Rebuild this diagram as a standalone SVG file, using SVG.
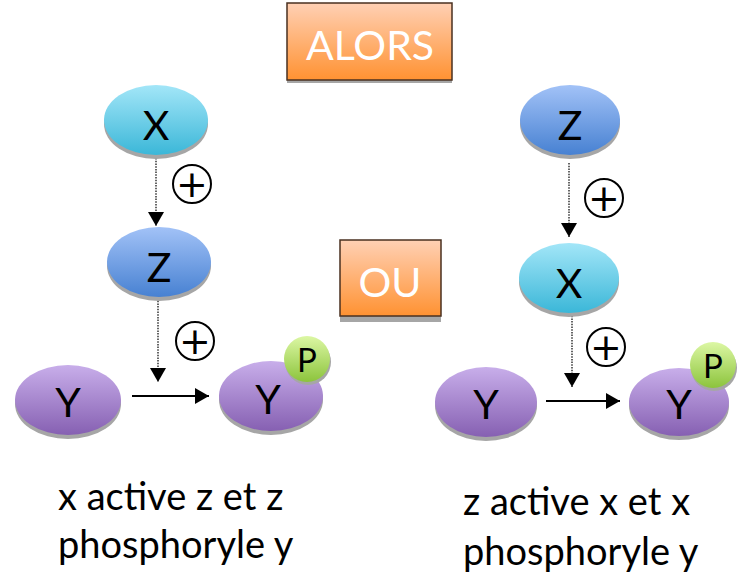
<svg xmlns="http://www.w3.org/2000/svg" width="746" height="575" viewBox="0 0 746 575">
<defs>
<linearGradient id="gX" x1="0" y1="0" x2="0" y2="1"><stop offset="0" stop-color="#a3e6f8"/><stop offset="1" stop-color="#3bb7d8"/></linearGradient>
<linearGradient id="gZ" x1="0" y1="0" x2="0" y2="1"><stop offset="0" stop-color="#a2c2f7"/><stop offset="1" stop-color="#4781d2"/></linearGradient>
<linearGradient id="gY" x1="0" y1="0" x2="0" y2="1"><stop offset="0" stop-color="#c8aeea"/><stop offset="1" stop-color="#8660b2"/></linearGradient>
<linearGradient id="gP" x1="0" y1="0" x2="0" y2="1"><stop offset="0" stop-color="#dcf7a4"/><stop offset="1" stop-color="#8cc43c"/></linearGradient>
<linearGradient id="gO" x1="0" y1="0" x2="0" y2="1"><stop offset="0" stop-color="#ffd0b4"/><stop offset="1" stop-color="#ff9232"/></linearGradient>
<marker id="ahv" viewBox="0 0 14 16" refX="14" refY="8" markerWidth="14" markerHeight="16" markerUnits="userSpaceOnUse" orient="auto"><path d="M0,0 L14,8 L0,16 Z" fill="#000"/></marker>
</defs>
<style>
.sh{fill:#a6a6a6}
.lbl{font-family:Lato,"Liberation Sans",sans-serif;font-size:41px;fill:#000;text-anchor:middle}
.plbl{font-family:Lato,"Liberation Sans",sans-serif;font-size:33px;fill:#000;text-anchor:middle}
.box{fill:url(#gO);stroke:#4a3020;stroke-width:1.5}
.btxt{font-family:Lato,"Liberation Sans",sans-serif;font-size:41px;fill:#fff;text-anchor:middle}
.dot{stroke:#333;stroke-width:1.5;stroke-dasharray:1.5 1.2;fill:none}
.sol{stroke:#000;stroke-width:2;fill:none}
.pc{fill:#fff;stroke:#000;stroke-width:2}
.ptxt{font-family:"DejaVu Sans",sans-serif;font-size:38px;fill:#000;text-anchor:middle}
.cap{font-family:Lato,"Liberation Sans",sans-serif;font-size:38px;fill:#000}
</style>

<g id="alors"><rect x="287" y="6" width="165" height="77" class="sh"/><rect x="287" y="3" width="165" height="77" class="box"/><text x="370" y="60" class="btxt">ALORS</text></g>
<g id="ou"><rect x="340" y="244" width="101" height="78" class="sh"/><rect x="340" y="240" width="101" height="76" class="box"/><text x="390" y="297" class="btxt">OU</text></g>

<g id="connectors">
<line x1="156" y1="150" x2="156" y2="226" class="dot" marker-end="url(#ahv)"/>
<line x1="158" y1="298" x2="158" y2="382" class="dot" marker-end="url(#ahv)"/>
<line x1="132" y1="396" x2="209" y2="396" class="sol" marker-end="url(#ahv)"/>
<line x1="569" y1="163" x2="569" y2="237" class="dot" marker-end="url(#ahv)"/>
<line x1="572" y1="313" x2="572" y2="387" class="dot" marker-end="url(#ahv)"/>
<line x1="546" y1="401" x2="620" y2="401" class="sol" marker-end="url(#ahv)"/>
<g id="plus1"><circle cx="192" cy="184" r="19" class="pc"/><text x="192" y="197" class="ptxt">+</text></g>
<g id="plus2"><circle cx="195" cy="341" r="19" class="pc"/><text x="195" y="354" class="ptxt">+</text></g>
<g id="plus3"><circle cx="604" cy="198" r="19" class="pc"/><text x="604" y="211" class="ptxt">+</text></g>
<g id="plus4"><circle cx="606" cy="347" r="19" class="pc"/><text x="606" y="360" class="ptxt">+</text></g>
</g>

<g id="x1"><ellipse cx="156" cy="124" rx="52" ry="35" class="sh"/><ellipse cx="156" cy="120" rx="52" ry="35" fill="url(#gX)"/><text x="156" y="140" class="lbl">X</text></g>
<g id="z1"><ellipse cx="159" cy="266" rx="52" ry="35" class="sh"/><ellipse cx="159" cy="262" rx="52" ry="35" fill="url(#gZ)"/><text x="159" y="282" class="lbl">Z</text></g>
<g id="y1"><ellipse cx="68" cy="404" rx="53" ry="35" class="sh"/><ellipse cx="68" cy="400" rx="53" ry="35" fill="url(#gY)"/><text x="68" y="417" class="lbl">Y</text></g>
<g id="yp1"><ellipse cx="271" cy="400" rx="52" ry="35" class="sh"/><ellipse cx="271" cy="396" rx="52" ry="35" fill="url(#gY)"/><text x="268" y="414" class="lbl">Y</text>
<circle cx="308" cy="362" r="23" class="sh"/><circle cx="307" cy="359" r="23" fill="url(#gP)"/><text x="307" y="372" class="plbl">P</text></g>

<g id="z2"><ellipse cx="570" cy="124" rx="50" ry="35" class="sh"/><ellipse cx="570" cy="120" rx="50" ry="35" fill="url(#gZ)"/><text x="570" y="140" class="lbl">Z</text></g>
<g id="x2"><ellipse cx="569" cy="282" rx="50" ry="35" class="sh"/><ellipse cx="569" cy="278" rx="50" ry="35" fill="url(#gX)"/><text x="569" y="298" class="lbl">X</text></g>
<g id="y2"><ellipse cx="486" cy="406" rx="51" ry="35" class="sh"/><ellipse cx="486" cy="402" rx="51" ry="35" fill="url(#gY)"/><text x="486" y="419" class="lbl">Y</text></g>
<g id="yp2"><ellipse cx="679" cy="406" rx="50" ry="34" class="sh"/><ellipse cx="679" cy="402" rx="50" ry="34" fill="url(#gY)"/><text x="679" y="419" class="lbl">Y</text>
<circle cx="714" cy="368" r="23" class="sh"/><circle cx="713" cy="365" r="23" fill="url(#gP)"/><text x="713" y="378" class="plbl">P</text></g>

<g id="captions">
<text x="58" y="510" class="cap">x active z et z</text>
<text x="58" y="558" class="cap">phosphoryle y</text>
<text x="463" y="515" class="cap">z active x et x</text>
<text x="463" y="565" class="cap">phosphoryle y</text>
</g>
</svg>
